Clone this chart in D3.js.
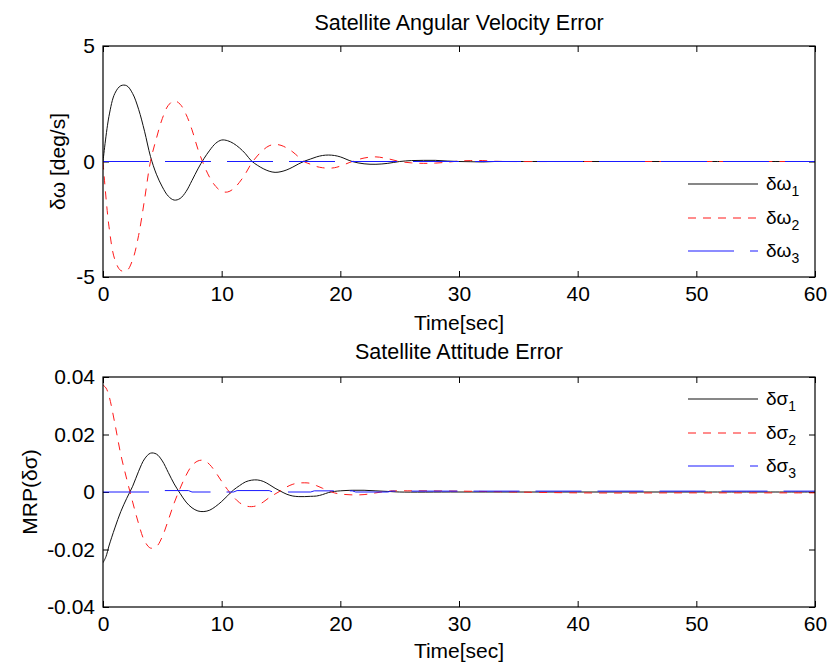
<!DOCTYPE html>
<html>
<head>
<meta charset="utf-8">
<script src="https://cdn.jsdelivr.net/npm/d3@7"></script>
<style>
  body { margin: 0; background: #fff; }
  svg text { font-family: "Liberation Sans", Arial, Helvetica, sans-serif; }
</style>
</head>
<body>
<div id="chart"></div>
<script>

/* DATA ********************************************************************************/

// Angular velocity error [deg/s]
var tOmega = [0, 0.5, 1, 1.5, 2, 2.5, 3, 3.5, 4, 4.5, 5, 5.5, 6, 6.5, 7, 7.5, 8, 8.5, 9, 9.5,
              10, 10.5, 11, 11.5, 12, 12.5, 13, 13.5, 14, 14.5, 15, 15.5, 16, 16.5, 17, 17.5, 18, 18.5, 19, 19.5,
              20, 21, 22, 23, 24, 25, 26, 27, 28, 29, 30, 31, 32, 33, 34, 40, 50, 60];
var omega1 = [0, 1.95, 2.95, 3.28, 3.28, 2.94, 2.26, 1.31, 0.22, -0.55, -1.1, -1.5, -1.67, -1.6, -1.3, -0.82, -0.32, 0.12, 0.49, 0.79,
              0.93, 0.9, 0.78, 0.59, 0.34, 0.03, -0.16, -0.31, -0.42, -0.47, -0.44, -0.36, -0.24, -0.1, 0.02, 0.11, 0.2, 0.26, 0.28, 0.26,
              0.2, 0.0, -0.1, -0.12, -0.08, 0, 0.04, 0.05, 0.05, 0.02, 0, -0.01, -0.02, 0, 0, 0, 0, 0];
var omega2 = [0, -2.8, -4.25, -4.72, -4.73, -4.25, -3.2, -1.65, 0, 1.0, 1.86, 2.43, 2.63, 2.48, 2.04, 1.37, 0.53, -0.15, -0.7, -1.08,
              -1.29, -1.32, -1.18, -0.9, -0.53, -0.09, 0.24, 0.5, 0.68, 0.74, 0.7, 0.58, 0.41, 0.19, -0.02, -0.12, -0.22, -0.27, -0.29, -0.27,
              -0.2, 0, 0.15, 0.2, 0.12, 0, -0.06, -0.08, -0.07, -0.03, 0.02, 0.04, 0.04, 0.01, 0, 0, 0, 0];
var tOmega3 = [0, 20, 60];
var omega3 = [0, 0, 0];

// Attitude error (MRP)
var tSigma = [0, 0.25, 0.5, 1, 1.5, 2, 2.5, 3, 3.5, 4, 4.5, 5, 5.5, 6, 6.5, 7, 7.5, 8, 8.5, 9, 9.5,
              10, 10.5, 11, 11.5, 12, 12.5, 13, 13.5, 14, 14.5, 15, 15.5, 16, 16.5, 17, 17.5, 18, 18.5, 19, 19.5,
              20, 21, 22, 23, 24, 25, 30, 40, 50, 60];
var sigma1 = [-0.0246, -0.0225, -0.0188, -0.0125, -0.0068, -0.0022, 0.002, 0.0072, 0.0115, 0.0135, 0.0132, 0.0108, 0.0068, 0.0028, -0.0005, -0.0035, -0.0055, -0.0066, -0.0068, -0.0063, -0.005,
              -0.0033, -0.0013, 0.0007, 0.0022, 0.0035, 0.0041, 0.0042, 0.0037, 0.0026, 0.0013, 0.0002, -0.0008, -0.0014, -0.0016, -0.0016, -0.0015, -0.0014, -0.0009, -0.0002, 0.0002,
              0.0004, 0.0006, 0.0006, 0.0004, 0.0002, 0, 0, 0, 0, 0];
var sigma2 = [0.0372, 0.0362, 0.0335, 0.0238, 0.013, 0.0045, -0.0035, -0.011, -0.017, -0.0195, -0.019, -0.0155, -0.0098, -0.0038, 0.0013, 0.0058, 0.0092, 0.0108, 0.011, 0.0095, 0.0068,
              0.0037, 0.0008, -0.0017, -0.0037, -0.0048, -0.0051, -0.0047, -0.0035, -0.002, -0.0007, 0.0005, 0.0018, 0.0027, 0.0031, 0.0032, 0.003, 0.0022, 0.0013, 0.0004, -0.0003,
              -0.0007, -0.001, -0.0009, -0.0003, 0.0003, 0.0004, 0.0003, -0.0003, -0.0003, -0.0003];
var tSigma3 = [0, 4.5, 5, 7.2, 7.5, 11, 11.3, 14, 14.3, 17.5, 17.8, 21, 21.3, 24, 24.3, 60];
var sigma3 = [0, 0, 0.0005, 0.0005, 0, 0, 0.0005, 0.0005, 0, 0, 0.0004, 0.0004, 0, 0, 0.0003, 0.0003];

// Axis ticks
var xTicks = [0, 10, 20, 30, 40, 50, 60];
var omegaTicks = [-5, 0, 5];
var sigmaTicks = [-0.04, -0.02, 0, 0.02, 0.04];

/* SETTINGS ****************************************************************************/

const width = 829;
const height = 666;
const plotLeft = 103;
const plotRight = 815;
const fontSize = 21;
const tickLen = 6;

var red = "#ff1a1a";
var blue = "#1a1aff";
var black = "#111";

/* DRAW ********************************************************************************/

var svg = d3.select("#chart").append("svg")
    .attr("width", width)
    .attr("height", height)
    .style("background", "#fff");

var x = d3.scaleLinear().domain([0, 60]).range([plotLeft, plotRight]);

function drawPanel(opt) {
    var y = d3.scaleLinear().domain(opt.yDomain).range([opt.bottom, opt.top]);
    var g = svg.append("g");

    // clip so curves stay inside the box
    g.append("clipPath").attr("id", opt.id + "-clip")
      .append("rect")
        .attr("x", plotLeft).attr("y", opt.top)
        .attr("width", plotRight - plotLeft).attr("height", opt.bottom - opt.top);

    var fmt = function(d) { return d === 0 ? "0" : String(d); };

    // axes, ticks pointing in on all four sides
    var xb = g.append("g").attr("transform", "translate(0," + opt.bottom + ")")
        .call(d3.axisBottom(x).tickValues(xTicks).tickSizeInner(-tickLen).tickSizeOuter(0).tickPadding(9).tickFormat(fmt));
    var xt = g.append("g").attr("transform", "translate(0," + opt.top + ")")
        .call(d3.axisTop(x).tickValues(xTicks).tickSizeInner(-tickLen).tickSizeOuter(0).tickFormat(""));
    var yl = g.append("g").attr("transform", "translate(" + plotLeft + ",0)")
        .call(d3.axisLeft(y).tickValues(opt.ticks).tickSizeInner(-tickLen).tickSizeOuter(0).tickPadding(8).tickFormat(fmt));
    var yr = g.append("g").attr("transform", "translate(" + plotRight + ",0)")
        .call(d3.axisRight(y).tickValues(opt.ticks).tickSizeInner(-tickLen).tickSizeOuter(0).tickFormat(""));

    [xb, xt, yl, yr].forEach(function(a) {
        a.select(".domain").remove();
        a.selectAll(".tick line").attr("stroke", "#000");
        a.selectAll(".tick text")
            .attr("fill", "#000")
            .attr("font-size", fontSize)
            .attr("font-family", '"Liberation Sans", Arial, sans-serif');
    });

    // lines
    var lineGen = d3.line()
        .x(function(d) { return x(d[0]); })
        .y(function(d) { return y(d[1]); })
        .curve(d3.curveCatmullRom.alpha(0.5));
    var stepGen = d3.line()
        .x(function(d) { return x(d[0]); })
        .y(function(d) { return y(d[1]); });

    var lines = g.append("g").attr("clip-path", "url(#" + opt.id + "-clip)");
    opt.series.forEach(function(s) {
        var pts = d3.zip(s.t, s.v);
        lines.append("path")
            .attr("d", (s.step ? stepGen : lineGen)(pts))
            .attr("fill", "none")
            .attr("stroke", s.color)
            .attr("stroke-width", 1)
            .attr("stroke-dasharray", s.dash);
    });

    // box
    g.append("rect")
        .attr("x", plotLeft).attr("y", opt.top)
        .attr("width", plotRight - plotLeft).attr("height", opt.bottom - opt.top)
        .attr("fill", "none").attr("stroke", "#000").attr("stroke-width", 1.2);

    // title, labels
    g.append("text")
        .attr("x", (plotLeft + plotRight) / 2).attr("y", opt.titleY)
        .attr("text-anchor", "middle").attr("font-size", fontSize + 0.5)
        .text(opt.title);
    g.append("text")
        .attr("x", (plotLeft + plotRight) / 2).attr("y", opt.xLabelY)
        .attr("text-anchor", "middle").attr("font-size", fontSize)
        .text("Time[sec]");
    g.append("text")
        .attr("transform", "translate(" + opt.yLabelX + "," + (opt.top + opt.bottom) / 2 + ") rotate(-90)")
        .attr("text-anchor", "middle").attr("font-size", fontSize)
        .text(opt.yLabel);

    // legend
    opt.series.forEach(function(s, i) {
        var ly = Math.round(opt.legendY + i * 33.5);
        g.append("line")
            .attr("x1", 688).attr("x2", 758)
            .attr("y1", ly).attr("y2", ly)
            .attr("stroke", s.color).attr("stroke-width", 1.2)
            .attr("stroke-dasharray", s.dash);
        var t = g.append("text")
            .attr("x", 766).attr("y", ly + 6)
            .attr("font-size", 19);
        t.append("tspan").text(opt.symbol);
        t.append("tspan").attr("font-size", 14).attr("dy", 6).text(i + 1);
    });
}

drawPanel({
    id: "omega", top: 46, bottom: 277, yDomain: [-5, 5], ticks: omegaTicks,
    title: "Satellite Angular Velocity Error", titleY: 30, xLabelY: 330,
    yLabel: "δω [deg/s]", yLabelX: 65, symbol: "δω", legendY: 184,
    series: [
        { t: tOmega, v: omega1, color: black, dash: null },
        { t: tOmega, v: omega2, color: red, dash: "8,7" },
        { t: tOmega3, v: omega3, color: blue, dash: "46,16", step: true }
    ]
});

drawPanel({
    id: "sigma", top: 377, bottom: 607, yDomain: [-0.04, 0.04], ticks: sigmaTicks,
    title: "Satellite Attitude Error", titleY: 359, xLabelY: 658,
    yLabel: "MRP(δσ)", yLabelX: 37, symbol: "δσ", legendY: 399,
    series: [
        { t: tSigma, v: sigma1, color: black, dash: null },
        { t: tSigma, v: sigma2, color: red, dash: "8,7" },
        { t: tSigma3, v: sigma3, color: blue, dash: "46,16", step: true }
    ]
});

</script>
</body>
</html>
